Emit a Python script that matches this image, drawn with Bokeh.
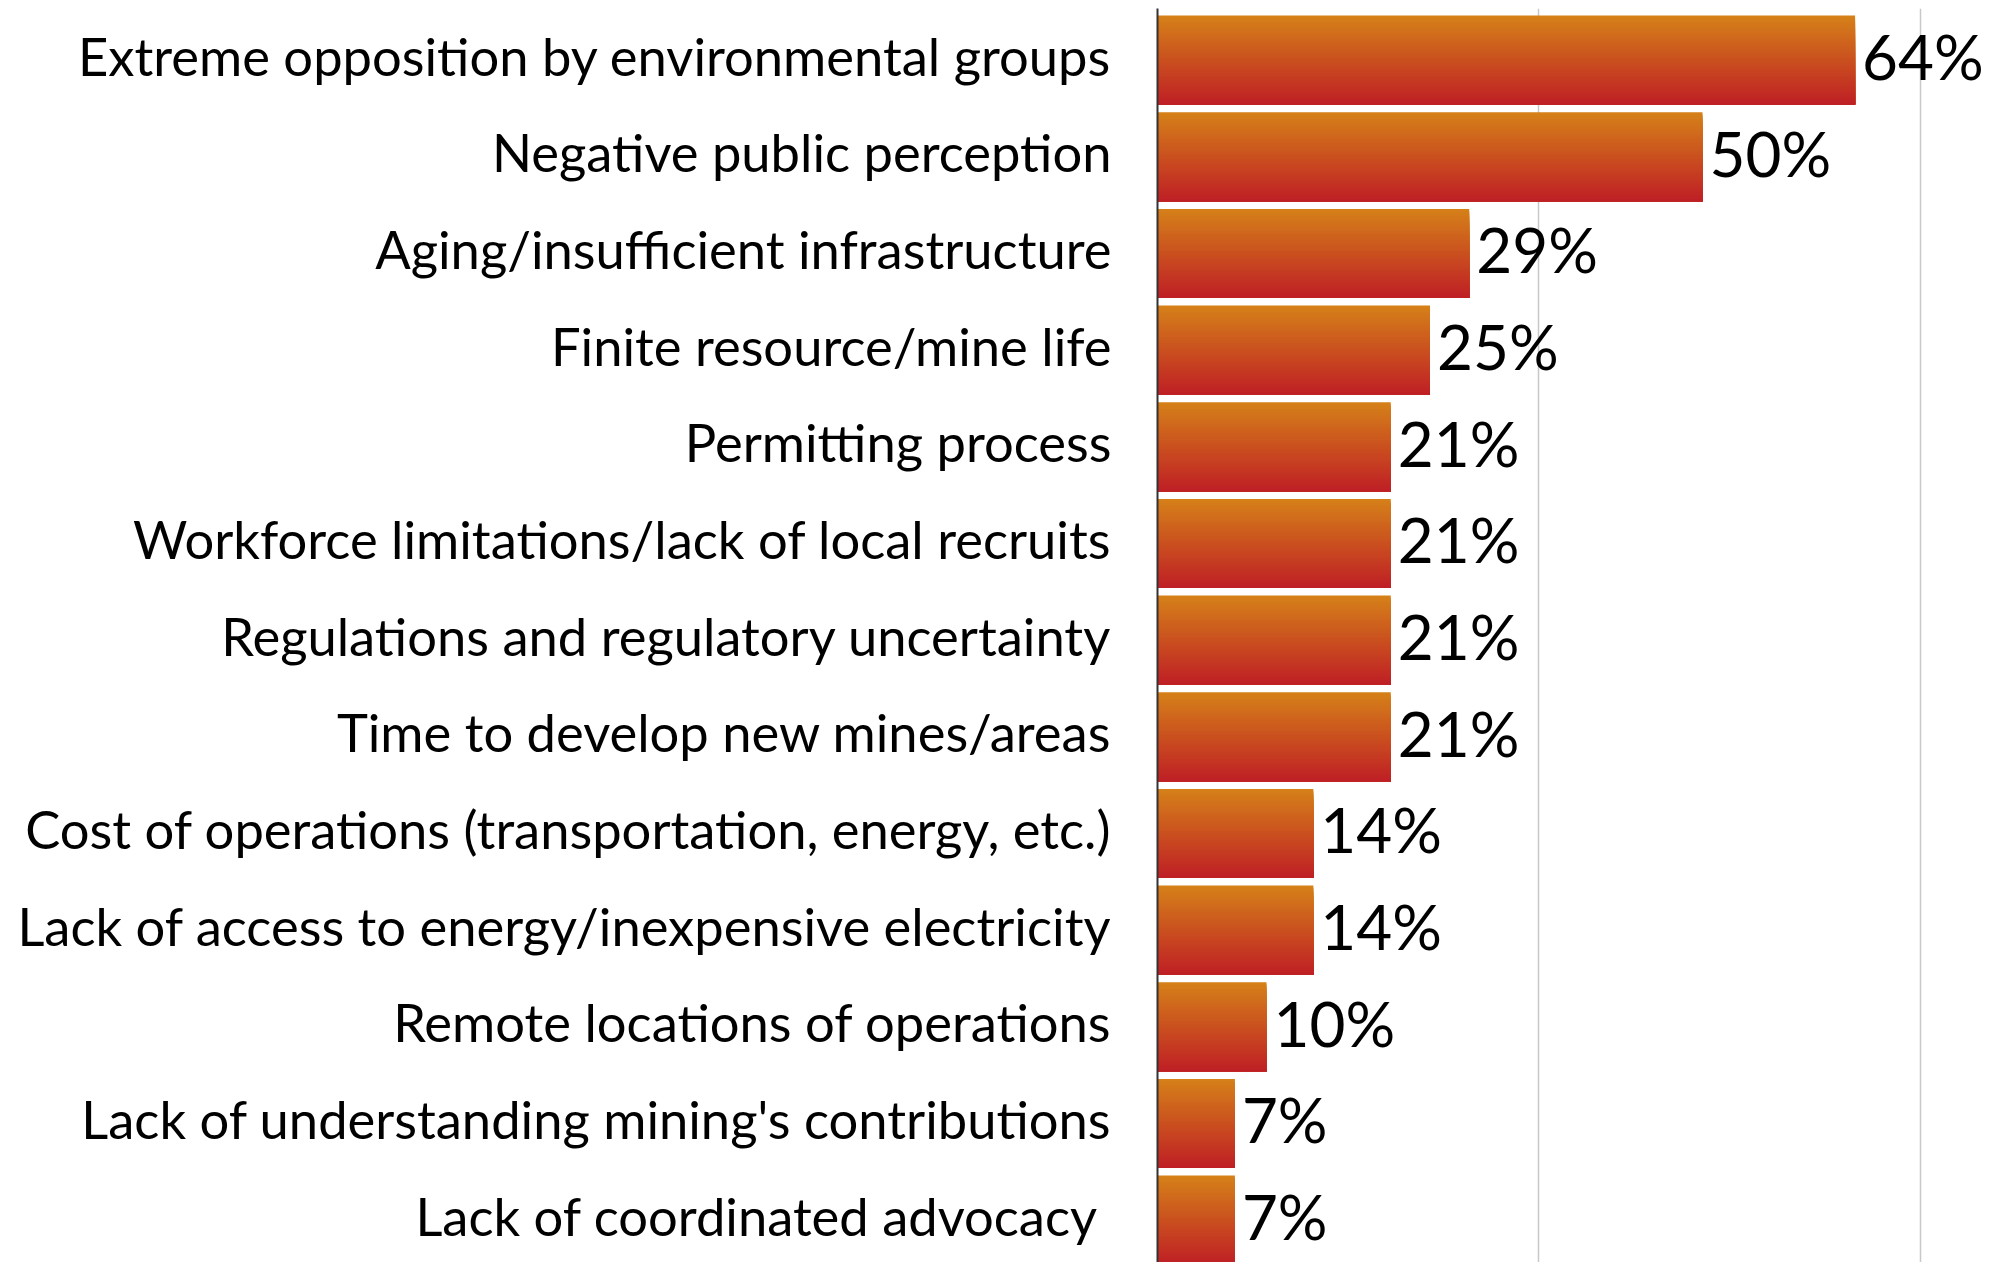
from bokeh.plotting import figure
from bokeh.models import Range1d, FixedTicker, ColumnDataSource
from bokeh.core.properties import value
from bokeh.embed import file_html
from bokeh.resources import INLINE

categories = [
    "Extreme opposition by environmental groups",
    "Negative public perception",
    "Aging/insufficient infrastructure",
    "Finite resource/mine life",
    "Permitting process",
    "Workforce limitations/lack of local recruits",
    "Regulations and regulatory uncertainty",
    "Time to develop new mines/areas",
    "Cost of operations (transportation, energy, etc.)",
    "Lack of access to energy/inexpensive electricity",
    "Remote locations of operations",
    "Lack of understanding mining's contributions",
    "Lack of coordinated advocacy ",
]
values = [64, 50, 28.6, 25, 21.4, 21.4, 21.4, 21.4, 14.3, 14.3, 10, 7.1, 7.1]
value_labels = ["64%", "50%", "29%", "25%", "21%", "21%", "21%", "21%", "14%", "14%", "10%", "7%", "7%"]
grid_ticks = [35, 70]

n = len(categories)
ys = list(range(n - 1, -1, -1))

FONT = "Lato"
TOP = (213, 129, 25)
BOT = (191, 31, 37)
BH = 0.92
K = 40
LABEL_SHIFT = 0.05

p = figure(width=1999, height=1262, output_backend="svg", toolbar_location=None,
           x_range=Range1d(0, 77.25), y_range=Range1d(-0.439, 12.533),
           min_border_left=1157, min_border_right=0, min_border_top=8, min_border_bottom=0)
p.outline_line_color = None
p.background_fill_color = "white"
p.border_fill_color = "white"

p.xaxis.visible = False
p.xgrid.ticker = FixedTicker(ticks=grid_ticks)
p.xgrid.grid_line_color = "#c8c8c8"
p.xgrid.grid_line_width = 1.5
p.ygrid.grid_line_color = None

h = BH / K
for j in range(K):
    t = (j + 0.5) / K
    c = tuple(int(round(TOP[i] + (BOT[i] - TOP[i]) * t)) for i in range(3))
    col = "#%02x%02x%02x" % c
    src = ColumnDataSource(dict(
        left=[0] * n,
        right=values,
        top=[y + BH / 2 - j * h for y in ys],
        bottom=[y - BH / 2 for y in ys],
    ))
    p.quad(left="left", right="right", top="top", bottom="bottom", source=src,
           fill_color=col, line_color=None)

p.text(x=values, y=ys, text=value_labels, x_offset=7, y_offset=-4, text_baseline="middle",
       text_align="left", text_font=value(FONT), text_font_size="62px", text_color="black")

tick_pos = [round(y + LABEL_SHIFT, 3) for y in ys]
p.yaxis.ticker = FixedTicker(ticks=tick_pos)
p.yaxis.major_label_overrides = {t: c for t, c in zip(tick_pos, categories)}
p.yaxis.major_tick_line_color = None
p.yaxis.minor_tick_line_color = None
p.yaxis.axis_line_color = "#333333"
p.yaxis.axis_line_width = 2
p.yaxis.major_label_standoff = 40
p.yaxis.major_label_text_font = FONT
p.yaxis.major_label_text_font_size = "52.5px"
p.yaxis.major_label_text_color = "black"

open("out.html", "w").write(file_html(p, INLINE))
